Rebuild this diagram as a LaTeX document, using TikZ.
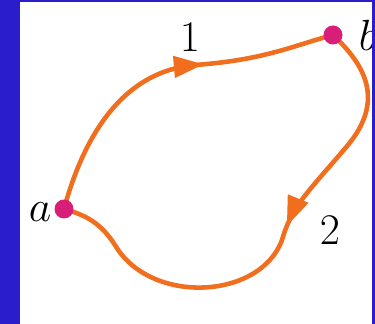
\documentclass[tikz,border=0pt]{standalone}
\usetikzlibrary{decorations.markings,arrows.meta}
\definecolor{bgblue}{RGB}{42,30,204}
\definecolor{pathorange}{RGB}{240,110,30}
\definecolor{dotpink}{RGB}{216,30,120}
\tikzset{
  pathline/.style={draw=pathorange,line width=2.6pt},
  midarrow/.style={postaction={decorate,decoration={markings,
     mark=at position #1 with {\arrow{Triangle[length=17pt,width=12pt,fill=pathorange,color=pathorange]}}}}},
  dotnode/.style={circle,fill=dotpink,inner sep=0pt,minimum size=0.38cm},
  lbl/.style={font=\fontsize{26}{30}\selectfont,inner sep=0pt}
}
\begin{document}
\begin{tikzpicture}[x=0.02cm,y=-0.02cm]
\fill[bgblue] (0,0) rectangle (375,324);
\fill[white] (20,2) rectangle (372,324);
\useasboundingbox (0,0) rectangle (375,324);
\coordinate (a) at (64,209);
\coordinate (b) at (333,35);
\path[pathline,midarrow=0.62] (a) .. controls (80,150) and (115,72) .. (195,65) .. controls (265,60) and (295,45) .. (b);
\path[pathline,midarrow=0.45] (b) .. controls (365,65) and (385,100) .. (348,145) .. controls (310,190) and (292,205) .. (282,240) .. controls (260,300) and (150,305) .. (115,245) .. controls (100,222) and (85,215) .. (a);
\node[dotnode] (da) at (a) {};
\node[dotnode] (db) at (b) {};
\node[lbl] (la) at (40,212) {$a$};
\node[lbl] (lb) at (368,35) {$b$};
\node[lbl] (l1) at (190,37) {$1$};
\node[lbl] (l2) at (330,230) {$2$};
\fill[bgblue] (372,0) rectangle (375,324);
\end{tikzpicture}
\end{document}
